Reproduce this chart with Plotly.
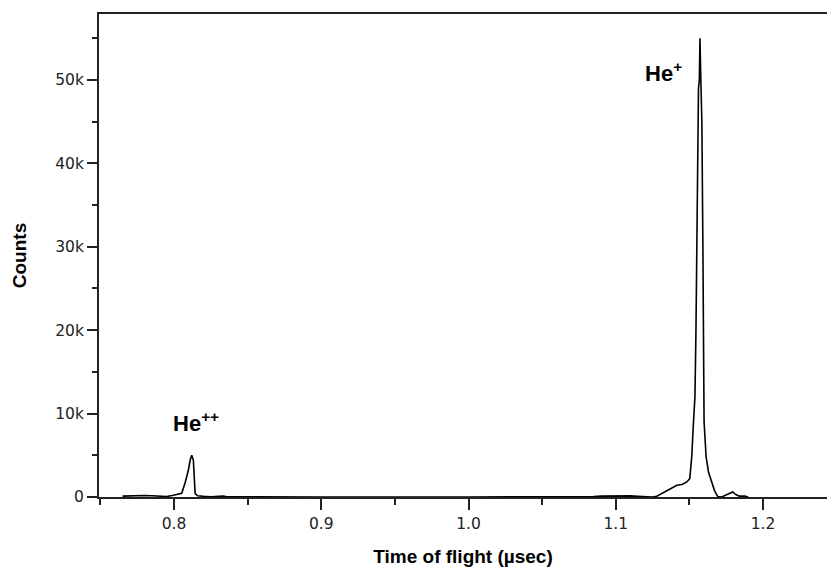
import plotly.graph_objects as go

# Time of flight (µsec) and counts
tof = [0.765, 0.770, 0.775, 0.780, 0.785, 0.790, 0.795, 0.7995, 0.8030, 0.8052, 0.8075,
       0.8097, 0.8109, 0.8120, 0.8131, 0.8138, 0.8143, 0.8160, 0.8177, 0.8200, 0.8250,
       0.8300, 0.8333, 0.8360, 0.8500, 0.9000, 1.0000, 1.0800, 1.0850, 1.0900, 1.0950,
       1.1000, 1.1050, 1.1100, 1.1150, 1.1200, 1.1250, 1.1279, 1.1320, 1.1360, 1.1400,
       1.1415, 1.1450, 1.1470, 1.1483, 1.1503, 1.1517, 1.1525, 1.1538, 1.1545, 1.1555,
       1.1562, 1.1568, 1.1572, 1.1578, 1.1585, 1.1592, 1.1596, 1.1600, 1.1614, 1.1630,
       1.1652, 1.1670, 1.1693, 1.1720, 1.1745, 1.1775, 1.1795, 1.1815, 1.1840, 1.1876,
       1.1900]
counts = [100, 150, 120, 180, 150, 120, 60, 200, 300, 450, 1700,
          3200, 4400, 5000, 4400, 2000, 400, 150, 100, 80, 30,
          40, 120, 20, 0, 0, 0, 0, 60, 100, 120,
          150, 140, 130, 80, 20, 0, 100, 500, 900, 1200,
          1400, 1500, 1700, 1800, 2200, 5000, 8000, 12000, 20000, 35000,
          49000, 50000, 55000, 50000, 45000, 30000, 12000, 9000, 4800, 3000,
          1800, 800, 50, 0, 200, 500, 600, 300, 100, 100,
          0]

x_tickvals = [0.8, 0.9, 1.0, 1.1, 1.2]
x_ticktext = ["0.8", "0.9", "1.0", "1.1", "1.2"]
y_tickvals = [0, 10000, 20000, 30000, 40000, 50000]
y_ticktext = ["0", "10k", "20k", "30k", "40k", "50k"]

fig = go.Figure()
fig.add_trace(go.Scatter(x=tof, y=counts, mode="lines",
                         line=dict(color="black", width=1.6), showlegend=False))

fig.add_annotation(x=0.8150, y=9000, text="<b>He<sup>++</sup></b>", showarrow=False,
                   font=dict(family="Liberation Sans, Arial", size=22, color="black"))
fig.add_annotation(x=1.1325, y=51000, text="<b>He<sup>+</sup></b>", showarrow=False,
                   font=dict(family="Liberation Sans, Arial", size=22, color="black"))

axis_font = dict(family="DejaVu Sans", size=15.5, color="#222")
fig.update_layout(
    width=827, height=567,
    margin=dict(l=99, r=0, t=14, b=70),
    plot_bgcolor="white", paper_bgcolor="white",
    xaxis=dict(range=[0.749, 1.2435], tickvals=x_tickvals, ticktext=x_ticktext,
               ticks="outside", ticklen=11, tickwidth=2, tickcolor="#222",
               showline=True, linecolor="#222", linewidth=2, mirror=True,
               showgrid=False, zeroline=False, tickfont=axis_font,
               minor=dict(ticks="outside", ticklen=6, tickwidth=2, tickcolor="#222", dtick=0.05),
               title=dict(text="<b>Time of flight (µsec)</b>", standoff=20,
                          font=dict(family="Liberation Sans, Arial", size=19, color="black"))),
    yaxis=dict(range=[0, 57900], tickvals=y_tickvals, ticktext=y_ticktext,
               ticks="outside", ticklen=10, tickwidth=2, tickcolor="#222",
               showline=True, linecolor="#222", linewidth=2, mirror=False,
               showgrid=False, zeroline=False, tickfont=axis_font,
               minor=dict(ticks="outside", ticklen=5, tickwidth=2, tickcolor="#222", dtick=5000),
               title=dict(text="<b>Counts</b>", standoff=24,
                          font=dict(family="Liberation Sans, Arial", size=19, color="black"))),
)

fig.write_html("out.html")
